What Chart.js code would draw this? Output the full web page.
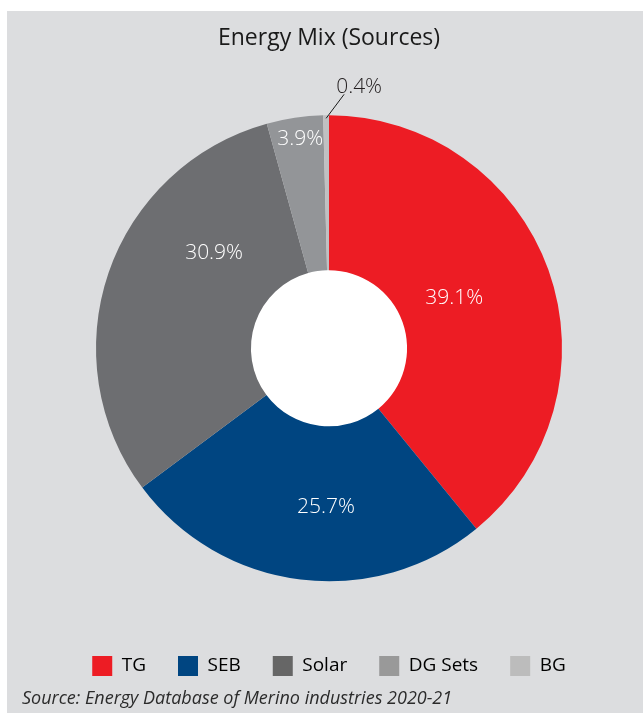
<!DOCTYPE html>
<html>
<head>
<meta charset="utf-8">
<script src="https://cdn.jsdelivr.net/npm/chart.js@4"></script>
<style>
  html, body { margin: 0; padding: 0; background: #ffffff; }
  #panel {
    position: absolute; left: 7px; top: 11px; width: 636px; height: 702px;
    background: #dcdddf; overflow: hidden;
  }
  #chart_box { position: absolute; left: 0; top: 0; width: 636px; height: 675px; }
  #source {
    position: absolute; left: 15px; top: 674px;
    font-family: "Open Sans", sans-serif; font-style: italic; font-size: 18px;
    color: #2b2b2b; white-space: nowrap;
  }
</style>
</head>
<body>
<div id="panel">
  <div id="chart_box"><canvas id="energy_canvas"></canvas></div>
  <div id="source">Source: Energy Database of Merino industries 2020-21</div>
</div>
<script>
// Chart data
const source_labels = ['TG', 'SEB', 'Solar', 'DG Sets', 'BG'];
const source_share = [39.1, 25.7, 30.9, 3.9, 0.4];
const slice_colours = ['#ed1c24', '#004581', '#6d6e71', '#939598', '#c0c0c2'];
const legend_colours = ['#ed1c24', '#004581', '#666666', '#999999', '#bcbcbc'];

/**
 * Fills the hole of the doughnut with white, the panel behind is grey.
 */
const white_hole_plugin = {
  id: 'whiteHole',
  beforeDatasetsDraw(chart) {
    const arc = chart.getDatasetMeta(0).data[0];
    if (!arc) return;
    const p = arc.getProps(['x', 'y', 'innerRadius'], true);
    const ctx = chart.ctx;
    ctx.save();
    ctx.fillStyle = '#ffffff';
    ctx.beginPath();
    ctx.arc(p.x, p.y, p.innerRadius + 0.5, 0, Math.PI * 2);
    ctx.fill();
    ctx.restore();
  }
};

/**
 * Draws the percentage labels on the slices. Small slices get a
 * call-out line and a dark label outside the ring.
 */
const slice_label_plugin = {
  id: 'sliceLabels',
  afterDatasetsDraw(chart, args, opts) {
    const ctx = chart.ctx;
    const meta = chart.getDatasetMeta(0);
    const values = chart.data.datasets[0].data;
    ctx.save();
    ctx.font = opts.font;
    ctx.textAlign = 'center';
    ctx.textBaseline = 'middle';
    meta.data.forEach((arc, i) => {
      const p = arc.getProps(['x', 'y', 'startAngle', 'endAngle', 'outerRadius'], true);
      const text = values[i].toFixed(1) + '%';
      const mid = (p.startAngle + p.endAngle) / 2;
      if (values[i] < opts.calloutBelow) {
        const r0 = p.outerRadius - 3;
        const sx = p.x + Math.cos(mid) * r0;
        const sy = p.y + Math.sin(mid) * r0;
        const ex = sx + opts.callout.dx;
        const ey = sy + opts.callout.dy;
        ctx.strokeStyle = '#1a1a1a';
        ctx.lineWidth = 1;
        ctx.beginPath();
        ctx.moveTo(sx, sy);
        ctx.lineTo(ex, ey);
        ctx.stroke();
        ctx.fillStyle = '#231f20';
        ctx.fillText(text, ex + opts.callout.tx, ey + opts.callout.ty);
        return;
      }
      const angle = mid + (opts.shift[i] || 0) * Math.PI / 180;
      const r = p.outerRadius * opts.radius[i];
      ctx.fillStyle = '#ffffff';
      ctx.fillText(text, p.x + Math.cos(angle) * r, p.y + Math.sin(angle) * r);
    });
    ctx.restore();
  }
};

const energy_chart = new Chart(document.getElementById('energy_canvas'), {
  type: 'doughnut',
  data: {
    labels: source_labels,
    datasets: [{
      data: source_share,
      backgroundColor: slice_colours,
      borderWidth: 0
    }]
  },
  options: {
    responsive: true,
    maintainAspectRatio: false,
    animation: false,
    radius: 233,
    cutout: '33.5%',
    layout: { padding: { left: 8, right: 0, top: 0, bottom: 0 } },
    plugins: {
      title: {
        display: true,
        text: 'Energy Mix (Sources)',
        color: '#1a1a1a',
        font: { family: 'Open Sans', size: 23, weight: 'normal' },
        padding: { top: 14, bottom: 20 }
      },
      legend: {
        position: 'bottom',
        labels: {
          color: '#231f20',
          font: { family: 'Open Sans', size: 19, weight: 'normal' },
          boxWidth: 20,
          boxHeight: 20,
          padding: 32,
          generateLabels(chart) {
            return chart.data.labels.map((label, i) => ({
              text: label,
              fillStyle: legend_colours[i],
              strokeStyle: legend_colours[i],
              lineWidth: 0,
              hidden: false,
              index: i
            }));
          }
        }
      },
      tooltip: { enabled: false },
      sliceLabels: {
        font: '300 21px "Open Sans"',
        calloutBelow: 1,
        callout: { dx: 18, dy: -24, tx: 15, ty: -7 },
        radius: [0.58, 0.68, 0.64, 0.905],
        shift: [-2.4, -5.9, 20.7, 0.6]
      }
    }
  },
  plugins: [white_hole_plugin, slice_label_plugin]
});
</script>
</body>
</html>
